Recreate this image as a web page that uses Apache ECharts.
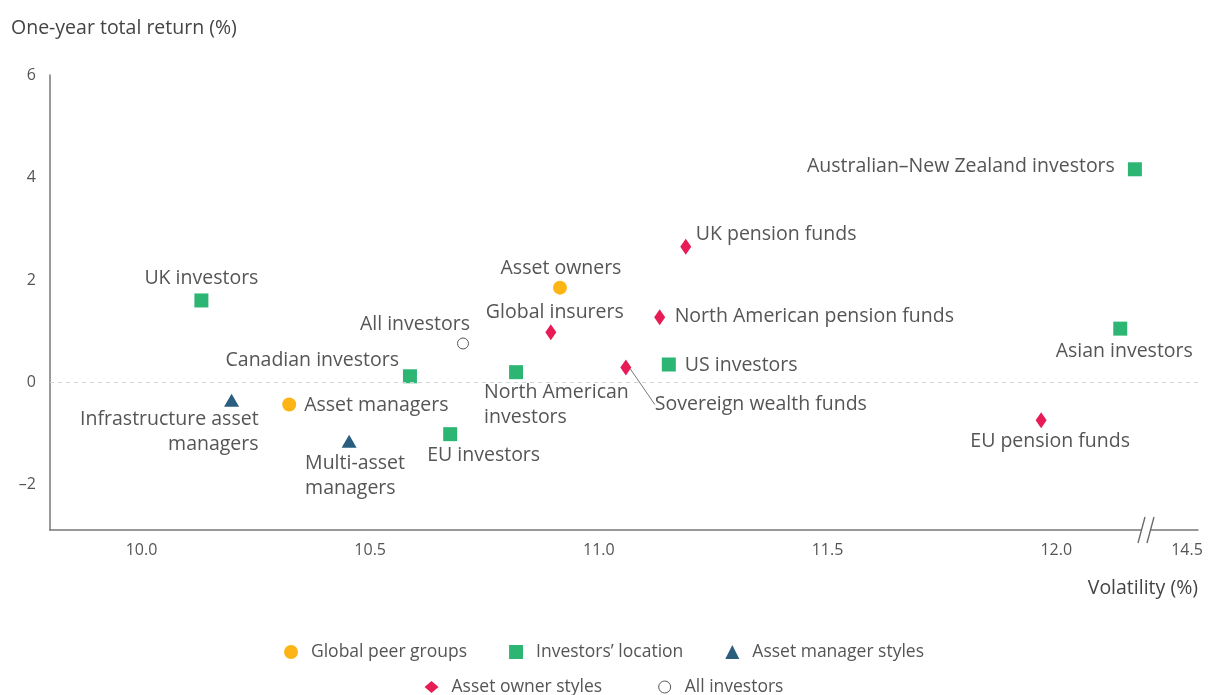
<!DOCTYPE html>
<html>
<head>
<meta charset="utf-8">
<script src="https://cdn.jsdelivr.net/npm/echarts@6/dist/echarts.min.js"></script>
<style>
  html, body { margin: 0; padding: 0; background: #fff; }
  #chart { width: 1208px; height: 695px; }
</style>
</head>
<body>
<div id="chart"></div>
<script>
// x is the plotted volatility; the axis is broken after 12.0,
// so the last tick (12.286 on the drawn scale) is labelled 14.5
var xTicks = [10, 10.5, 11, 11.5, 12, 12.286];
var yTicks = [-2, 0, 2, 4, 6];

var peerNames = ['Asset owners', 'Asset managers'];
var peerX = [10.915, 10.323];
var peerY = [1.85, -0.43];

var locNames = ['UK investors', 'Canadian investors', 'EU investors', 'North American\ninvestors',
  'US investors', 'Asian investors', 'Australian–New Zealand investors'];
var locX = [10.131, 10.587, 10.675, 10.819, 11.153, 12.140, 12.172];
var locY = [1.60, 0.12, -1.01, 0.20, 0.35, 1.05, 4.16];

var mgrNames = ['Infrastructure asset\nmanagers', 'Multi-asset\nmanagers'];
var mgrX = [10.197, 10.454];
var mgrY = [-0.35, -1.15];

var ownNames = ['UK pension funds', 'North American pension funds', 'Global insurers',
  'Sovereign wealth funds', 'EU pension funds'];
var ownX = [11.190, 11.133, 10.895, 11.059, 11.967];
var ownY = [2.65, 1.27, 0.98, 0.29, -0.74];

var allNames = ['All investors'];
var allX = [10.703];
var allY = [0.76];

// label placement: [dx, dy, align] from the marker centre
var place = {
  'UK investors': [0, -22, 'center'],
  'Infrastructure asset\nmanagers': [27, 32, 'right'],
  'Asset managers': [15, 1, 'left'],
  'Multi-asset\nmanagers': [-44, 35, 'left'],
  'Canadian investors': [-11, -16, 'right'],
  'All investors': [7, -19, 'right'],
  'EU investors': [-23, 21, 'left'],
  'North American\ninvestors': [-32, 33, 'left'],
  'Global insurers': [4, -20, 'center'],
  'Asset owners': [1, -19, 'center'],
  'Sovereign wealth funds': [29, 37, 'left'],
  'North American pension funds': [15, -1, 'left'],
  'US investors': [16, 1, 'left'],
  'UK pension funds': [10, -12, 'left'],
  'EU pension funds': [9, 21, 'center'],
  'Asian investors': [4, 23, 'center'],
  'Australian–New Zealand investors': [-20, -3, 'right']
};

var FONT = '"Open Sans", sans-serif';
var TXT = '#555';

function pts(names, xs, ys) {
  var out = [];
  for (var i = 0; i < names.length; i++) {
    var p = place[names[i]];
    var item = {
      name: names[i],
      value: [xs[i], ys[i]],
      label: {
        show: true,
        position: 'inside',
        offset: [p[0], p[1]],
        align: p[2],
        verticalAlign: 'middle'
      }
    };
    if (names[i] === 'Sovereign wealth funds') {
      item.labelLine = { show: true, lineStyle: { color: '#777', width: 1 } };
    }
    out.push(item);
  }
  return out;
}

var labelBase = {
  show: true,
  formatter: '{b}',
  color: TXT,
  fontSize: 19.5,
  lineHeight: 25,
  fontFamily: FONT
};

var legendText = { fontSize: 17.5, color: TXT, fontFamily: FONT, padding: [0, 0, 0, 8] };

var chart = echarts.init(document.getElementById('chart'));
var option = {
  animation: false,
  textStyle: { fontFamily: FONT },
  title: [
    { text: 'One-year total return (%)', left: 6, top: 13,
      textStyle: { fontSize: 19.5, fontWeight: 'normal', color: '#444', fontFamily: FONT } },
    { text: 'Volatility (%)', right: 5, top: 573,
      textStyle: { fontSize: 19.5, fontWeight: 'normal', color: '#444', fontFamily: FONT } }
  ],
  legend: [
    {
      data: ['Global peer groups', 'Investors’ location', 'Asset manager styles'],
      left: 'center', top: 638, itemGap: 42, itemWidth: 14, itemHeight: 14,
      textStyle: legendText
    },
    {
      data: ['Asset owner styles', { name: 'All investors', itemStyle: { borderWidth: 1 } }],
      left: 'center', top: 673, itemGap: 56, itemWidth: 14, itemHeight: 12,
      textStyle: legendText
    }
  ],
  grid: { left: 50, right: 10, top: 75, bottom: 165 },
  xAxis: {
    type: 'value', min: 9.8, max: 12.31,
    axisLine: { onZero: false, lineStyle: { color: '#777', width: 1.5 } },
    axisTick: { show: false },
    splitLine: { show: false },
    axisLabel: {
      customValues: xTicks, margin: 12, fontSize: 16, color: TXT, fontFamily: FONT,
      formatter: function (v) { return v > 12.2 ? '14.5' : v.toFixed(1); }
    }
  },
  yAxis: {
    type: 'value', min: -2.88, max: 6,
    axisLine: { show: true, onZero: false, lineStyle: { color: '#777', width: 1.5 } },
    axisTick: { show: false },
    splitLine: { show: false },
    axisLabel: {
      customValues: yTicks, margin: 14, fontSize: 16, color: TXT, fontFamily: FONT,
      formatter: function (v) { return v < 0 ? '–' + Math.abs(v) : String(v); }
    }
  },
  series: [
    {
      name: 'Global peer groups', type: 'scatter', symbol: 'circle', symbolSize: 14,
      itemStyle: { color: '#FDB515', opacity: 1 }, label: labelBase,
      data: pts(peerNames, peerX, peerY),
      markLine: {
        silent: true, symbol: 'none', label: { show: false },
        lineStyle: { color: '#d4d4d4', type: [4, 4], width: 1 },
        data: [{ yAxis: 0 }]
      }
    },
    {
      name: 'Investors’ location', type: 'scatter', symbol: 'rect', symbolSize: 14,
      itemStyle: { color: '#2DB673', opacity: 1 }, label: labelBase,
      data: pts(locNames, locX, locY)
    },
    {
      name: 'Asset manager styles', type: 'scatter', symbol: 'triangle', symbolSize: [15, 13],
      itemStyle: { color: '#295E7E', opacity: 1 }, label: labelBase,
      data: pts(mgrNames, mgrX, mgrY)
    },
    {
      name: 'Asset owner styles', type: 'scatter', symbol: 'diamond', symbolSize: [11, 16],
      itemStyle: { color: '#E71C57', opacity: 1 }, label: labelBase,
      data: pts(ownNames, ownX, ownY)
    },
    {
      name: 'All investors', type: 'scatter', symbol: 'circle', symbolSize: 11,
      itemStyle: { color: '#fff', borderColor: '#555', borderWidth: 1, opacity: 1 }, label: labelBase,
      data: pts(allNames, allX, allY)
    }
  ],
  graphic: [
    { type: 'rect', shape: { x: 1141, y: 527, width: 10, height: 6 }, style: { fill: '#fff' }, z: 100 },
    { type: 'line', shape: { x1: 1138, y1: 543, x2: 1145, y2: 517 }, style: { stroke: '#666', lineWidth: 1.3 }, z: 101 },
    { type: 'line', shape: { x1: 1147, y1: 543, x2: 1154, y2: 517 }, style: { stroke: '#666', lineWidth: 1.3 }, z: 101 }
  ]
};
chart.setOption(option);
</script>
</body>
</html>
